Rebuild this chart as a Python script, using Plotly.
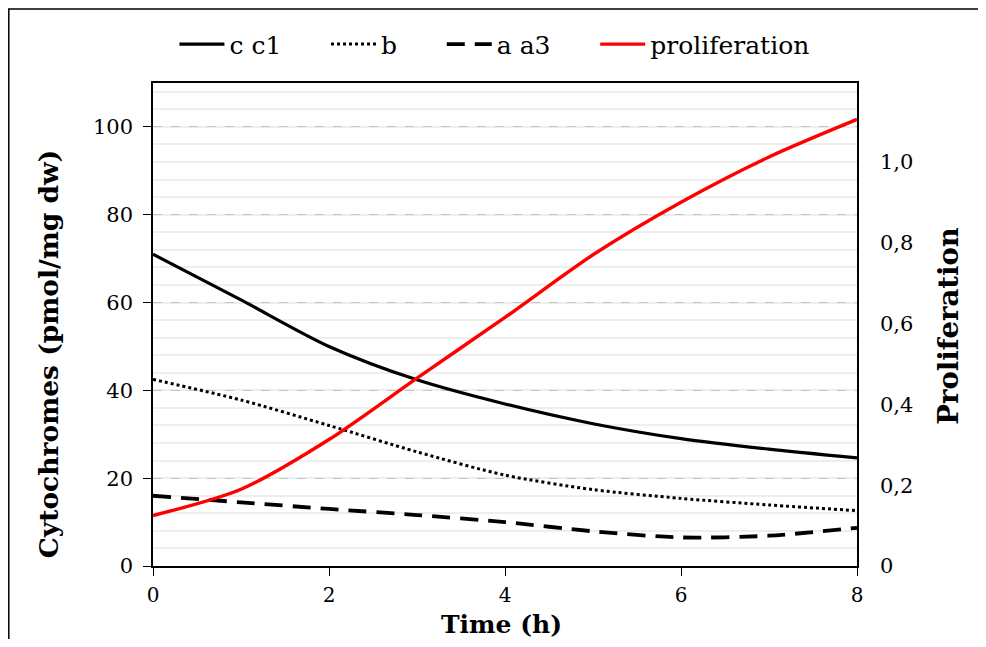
import plotly.graph_objects as go

time_h = [0, 1, 2, 3, 4, 5, 6, 7, 8]
c_c1 = [71.0, 60.6, 50.0, 42.4, 36.9, 32.4, 29.0, 26.6, 24.6]
b_vals = [42.5, 37.8, 32.0, 26.0, 20.7, 17.4, 15.4, 13.9, 12.6]
a_a3 = [16.0, 14.5, 13.0, 11.6, 10.0, 7.9, 6.5, 6.9, 8.7]
proliferation = [0.125, 0.19, 0.313, 0.465, 0.615, 0.77, 0.9, 1.012, 1.105]

left_ticks = [0, 20, 40, 60, 80, 100]
right_tickvals = [0, 0.2, 0.4, 0.6, 0.8, 1.0]
right_ticktext = ["0", "0,2", "0,4", "0,6", "0,8", "1,0"]
x_ticks = [0, 2, 4, 6, 8]

FONT = "DejaVu Serif, serif"
NB = "\u00a0"

fig = go.Figure()
fig.add_trace(go.Scatter(x=time_h, y=c_c1, name="c c1" + NB * 5, mode="lines",
                         line=dict(color="black", width=3.2, shape="spline", smoothing=0.8)))
fig.add_trace(go.Scatter(x=time_h, y=b_vals, name="b" + NB * 5, mode="lines",
                         line=dict(color="black", width=3, dash="dot", shape="spline", smoothing=0.8)))
fig.add_trace(go.Scatter(x=time_h, y=a_a3, name="a a3" + NB * 5, mode="lines",
                         line=dict(color="black", width=3.8, dash="18px,10px", shape="spline", smoothing=0.8)))
fig.add_trace(go.Scatter(x=time_h, y=proliferation, name="proliferation", mode="lines", yaxis="y2",
                         line=dict(color="#ff0000", width=3.4, shape="spline", smoothing=0.8)))

fig.update_layout(
    width=970, height=631,
    margin=dict(l=145, r=121, t=75, b=73, autoexpand=False),
    paper_bgcolor="white", plot_bgcolor="white",
    font=dict(family=FONT, color="black", size=21),
    showlegend=True,
    legend=dict(orientation="h", x=0.485, xanchor="center", y=1.08, yanchor="middle",
                font=dict(size=25, family=FONT), itemwidth=45, bgcolor="rgba(0,0,0,0)"),
    xaxis=dict(range=[0, 8], tickvals=x_ticks, showline=True, linecolor="black", linewidth=1.5,
               mirror=True, ticks="outside", ticklen=8, tickcolor="black", showgrid=False, zeroline=False,
               ticklabelstandoff=2, automargin=False, tickfont=dict(size=20)),
    yaxis=dict(range=[0, 110], tickvals=left_ticks, showline=True, linecolor="black", linewidth=1.5,
               mirror=True, ticks="outside", ticklen=8, tickcolor="black", zeroline=False,
               ticklabelstandoff=6, automargin=False,
               showgrid=True, gridcolor="#c4c4c4", griddash="dash", gridwidth=1,
               minor=dict(dtick=4, showgrid=True, gridcolor="#eeeeee", griddash="solid", gridwidth=2, ticks=""),
               tickfont=dict(size=21)),
    yaxis2=dict(range=[0, 110 / 405 * 4.4], overlaying="y", side="right", tickvals=right_tickvals,
                ticktext=right_ticktext, showgrid=False, zeroline=False, showline=False, ticks="",
                ticklabelstandoff=22, automargin=False, tickfont=dict(size=21)),
    annotations=[
        dict(text="<b>Time (h)</b>", xref="paper", yref="paper", x=0.495, y=-0.1201,
             xanchor="center", yanchor="middle", showarrow=False, font=dict(size=25, family=FONT)),
        dict(text="<b>Cytochromes (pmol/mg dw)</b>", xref="paper", yref="paper", x=-0.148, y=0.44,
             xanchor="center", yanchor="middle", textangle=-90, showarrow=False,
             font=dict(size=26.5, family=FONT)),
        dict(text="<b>Proliferation</b>", xref="paper", yref="paper", x=1.129, y=0.497,
             xanchor="center", yanchor="middle", textangle=-90, showarrow=False,
             font=dict(size=27.5, family=FONT)),
    ],
    shapes=[dict(type="rect", xref="paper", yref="paper",
                 x0=(0.8 - 145) / 704, x1=1.4, y0=-0.4, y1=(558 - 1) / 483,
                 line=dict(color="black", width=1.5), fillcolor="rgba(0,0,0,0)", layer="below")],
)

fig.write_html("out.html")
